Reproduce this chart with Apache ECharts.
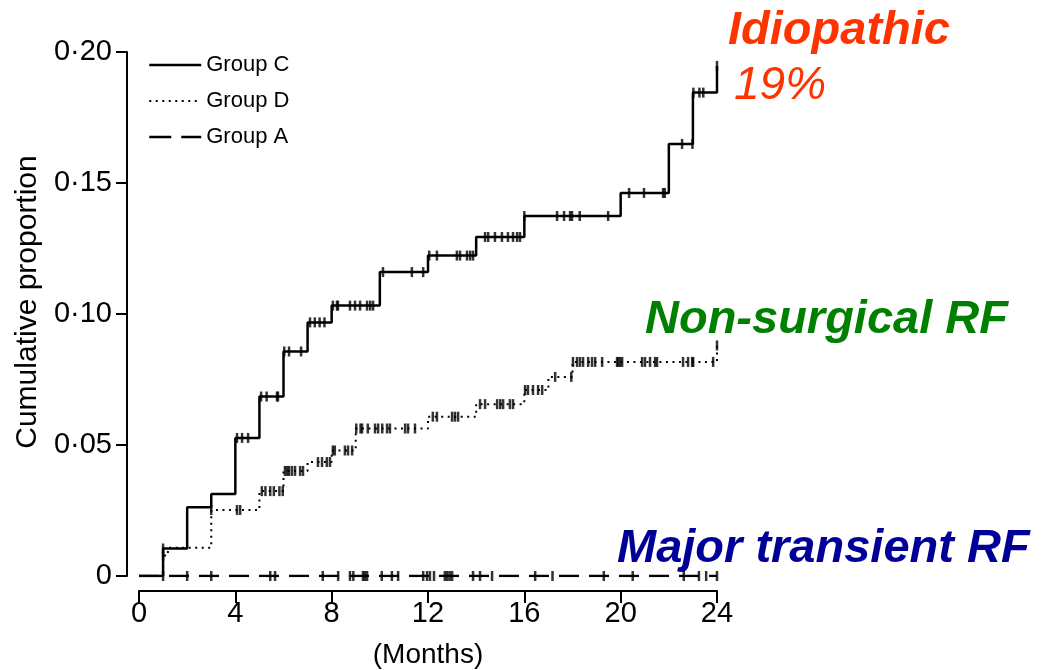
<!DOCTYPE html>
<html lang="en">
<head>
  <meta charset="utf-8">
  <title>Cumulative proportion by group</title>
  <script src="https://fastly.jsdelivr.net/npm/echarts@6/dist/echarts.min.js"></script>
  <style>
    * { margin: 0; padding: 0; }
    #chart { width: 1061px; height: 670px; background: #fff; }
  </style>
</head>
<body>
  <div id="chart"></div>
  <script>
    // axis ticks
    var xTicks = [0, 4, 8, 12, 16, 20, 24];
    var yTicks = [0, 0.05, 0.10, 0.15, 0.20];

    // Group C (solid) – step times and cumulative proportion after each step
    var cTimes = [0, 1, 2, 3, 4, 5, 6, 7, 8, 10, 12, 14, 16, 20, 22, 23, 24];
    var cVals  = [0, 0.0105, 0.0262, 0.0313, 0.0527, 0.0685, 0.0857, 0.0968, 0.1032,
                  0.1160, 0.1223, 0.1294, 0.1374, 0.1462, 0.1649, 0.1845, 0.1947];
    var cCensor = [1.0, 4.07, 4.28, 4.53, 5.07, 5.3, 5.73, 5.77, 6.03, 6.23, 6.73,
                   7.1, 7.3, 7.5, 7.7, 8.05, 8.22, 8.26, 8.76, 8.97, 9.18, 9.47, 9.6, 9.72,
                   10.13, 11.33, 11.8, 12.05, 12.37, 13.2, 13.33, 13.62, 13.75, 13.87,
                   14.37, 14.5, 14.78, 15.07, 15.32, 15.53, 15.7, 15.82,
                   16.0, 17.36, 17.65, 17.9, 17.98, 18.3, 19.48,
                   20.35, 20.97, 21.76, 21.83, 22.55, 22.98, 23.02, 23.27, 23.43, 24.0];

    // Group D (dotted)
    var dTimes = [0, 1, 1.2, 3, 5, 6, 7, 8, 9, 12, 14, 16, 17, 18, 24];
    var dVals  = [0, 0.0078, 0.0108, 0.0252, 0.0324, 0.0401, 0.0435, 0.0479, 0.0563,
                  0.0608, 0.0656, 0.0710, 0.0760, 0.0817, 0.0880];
    var dCensor = [1.0, 3.0, 4.07, 4.2, 5.1, 5.25, 5.45, 5.6, 5.83, 5.97,
                   6.06, 6.15, 6.23, 6.35, 6.48, 6.69, 6.81, 7.43, 7.6, 7.8, 7.93,
                   8.05, 8.13, 8.55, 8.68, 8.85, 9.02, 9.2, 9.26, 9.5, 9.8, 9.93, 10.1, 10.3, 10.42,
                   11.05, 11.17, 11.46, 12.2, 12.37, 13.0, 13.12, 13.25,
                   14.16, 14.37, 14.87, 15.0, 15.12, 15.4, 15.53,
                   16.03, 16.15, 16.36, 16.57, 16.74, 17.28, 17.95,
                   18.02, 18.19, 18.31, 18.44, 18.65, 18.81, 18.94, 19.23, 19.85, 19.9, 19.98, 20.06,
                   20.89, 21.01, 21.22, 21.43, 21.51, 22.59, 22.8, 22.97, 23.01, 23.84, 24.0];

    // Group A (dashed) – no events
    var aTimes = [0, 24];
    var aVals  = [0, 0];
    var aCensor = [1.0, 2.0, 3.0, 5.45, 5.65, 7.63, 8.27, 8.76, 8.9, 9.3, 9.38, 9.47,
                   10.08, 10.5, 10.76, 11.8, 11.96, 12.08, 12.25, 12.7, 12.8, 12.9, 13.0,
                   13.87, 14.16, 14.66, 16.45, 17.17, 19.3, 20.5, 22.62, 23.25, 23.55, 24.0];

    var FONT = '"Liberation Sans", Arial, sans-serif';
    var DASH_A = [20, 10];
    var DOT_D = [2, 4.5];

    function pairs(ts, vs) {
      return ts.map(function (t, i) { return [t, vs[i]]; });
    }
    // value of the step curve at time t
    function stepAt(ts, vs, t) {
      var v = vs[0];
      for (var i = 0; i < ts.length; i++) {
        if (ts[i] <= t) v = vs[i];
      }
      return v;
    }
    function censorPts(cens, ts, vs) {
      return cens.map(function (t) { return [t, stepAt(ts, vs, t)]; });
    }

    function stepLine(name, ts, vs, type, width) {
      return {
        name: name,
        type: 'line',
        step: 'end',
        symbol: 'none',
        data: pairs(ts, vs),
        lineStyle: { color: '#000', width: width, type: type },
        itemStyle: { color: '#000' },
        z: 3
      };
    }
    function censorMarks(name, cens, ts, vs) {
      return {
        name: name,
        type: 'scatter',
        symbol: 'rect',
        symbolSize: [2.5, 10],
        itemStyle: { color: '#000' },
        data: censorPts(cens, ts, vs),
        z: 4
      };
    }

    var chart = echarts.init(document.getElementById('chart'), null, { renderer: 'canvas' });

    var option = {
      animation: false,
      backgroundColor: '#fff',
      grid: { left: 139, right: 344, top: 52, bottom: 94, containLabel: false, outerBoundsMode: 'none' },
      legend: {
        data: [
          { name: 'Group C', lineStyle: { type: 'solid', width: 2.5 } },
          { name: 'Group D', lineStyle: { type: DOT_D, width: 2 } },
          { name: 'Group A', lineStyle: { type: [22, 10], width: 2.5 } }
        ],
        orient: 'vertical',
        left: 143,
        top: 47,
        itemWidth: 52,
        itemHeight: 14,
        itemGap: 10,
        itemStyle: { opacity: 0 },
        textStyle: { fontFamily: FONT, fontSize: 22, color: '#000', lineHeight: 26 }
      },
      xAxis: {
        type: 'value',
        min: xTicks[0],
        max: xTicks[xTicks.length - 1],
        interval: xTicks[1] - xTicks[0],
        offset: 15,
        name: '(Months)',
        nameLocation: 'middle',
        nameGap: 50,
        nameTextStyle: { fontFamily: FONT, fontSize: 28, color: '#000' },
        axisLine: { onZero: false, lineStyle: { color: '#000', width: 2 } },
        axisTick: { length: 12, lineStyle: { color: '#000', width: 2 } },
        axisLabel: { fontFamily: FONT, fontSize: 29, color: '#000', margin: 8 },
        splitLine: { show: false }
      },
      yAxis: {
        type: 'value',
        min: yTicks[0],
        max: yTicks[yTicks.length - 1],
        interval: yTicks[1] - yTicks[0],
        offset: 12,
        name: 'Cumulative proportion',
        nameLocation: 'middle',
        nameGap: 70,
        nameTextStyle: { fontFamily: FONT, fontSize: 30, color: '#000', padding: [0, 0, 0, 24] },
        axisLine: { show: true, onZero: false, lineStyle: { color: '#000', width: 2 } },
        axisTick: { show: true, length: 11, lineStyle: { color: '#000', width: 2 } },
        axisLabel: {
          fontFamily: FONT, fontSize: 29, color: '#000', margin: 15,
          formatter: function (v) {
            return v === 0 ? '0' : v.toFixed(2).replace('.', '\u00B7');
          }
        },
        splitLine: { show: false }
      },
      graphic: [
        { type: 'text', x: 728, y: 31,
          style: { text: 'Idiopathic', font: 'italic bold 47px ' + FONT, fill: '#FF3300', textVerticalAlign: 'middle' } },
        { type: 'text', x: 734, y: 86,
          style: { text: '19%', font: 'italic 46px ' + FONT, fill: '#FF3300', textVerticalAlign: 'middle' } },
        { type: 'text', x: 645, y: 320,
          style: { text: 'Non-surgical RF', font: 'italic bold 47px ' + FONT, fill: '#008000', textVerticalAlign: 'middle' } },
        { type: 'text', x: 617, y: 549,
          style: { text: 'Major transient RF', font: 'italic bold 47px ' + FONT, fill: '#000099', textVerticalAlign: 'middle' } }
      ],
      series: [
        stepLine('Group A', aTimes, aVals, DASH_A, 2.5),
        stepLine('Group D', dTimes, dVals, DOT_D, 2),
        stepLine('Group C', cTimes, cVals, 'solid', 2.5),
        censorMarks('A censored', aCensor, aTimes, aVals),
        censorMarks('D censored', dCensor, dTimes, dVals),
        censorMarks('C censored', cCensor, cTimes, cVals)
      ]
    };

    chart.setOption(option);
    window.addEventListener('resize', chart.resize);
  </script>
</body>
</html>
